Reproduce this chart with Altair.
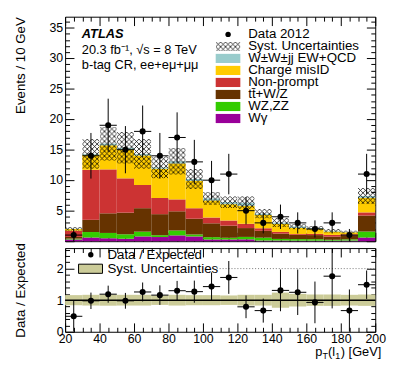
import urllib.parse
import altair as alt
import pandas as pd

# ---------------- data ----------------
bin_lo = [20, 30, 40, 50, 60, 70, 80, 90, 100, 110, 120, 130, 140, 150, 160, 170, 180, 190]
bin_hi = [30, 40, 50, 60, 70, 80, 90, 100, 110, 120, 130, 140, 150, 160, 170, 180, 190, 200]

wgamma       = [0.28, 0.60, 0.48, 0.40, 0.78, 0.68, 0.95, 0.78, 0.28, 0.28, 0.30, 0.10, 0.10, 0.08, 0.08, 0.08, 0.10, 0.60]
wz_zz        = [0.14, 0.90, 0.87, 0.73, 0.78, 0.30, 0.80, 0.32, 0.38, 0.28, 0.40, 0.48, 0.27, 0.26, 0.25, 0.15, 0.20, 0.98]
ttbar_v      = [0.28, 2.00, 3.22, 3.55, 3.85, 3.45, 3.15, 2.58, 2.27, 1.98, 1.45, 1.12, 0.87, 0.70, 0.67, 0.50, 0.67, 2.62]
non_prompt   = [1.02, 8.20, 7.20, 5.62, 3.80, 2.65, 1.95, 1.72, 0.95, 0.85, 0.70, 0.42, 0.28, 0.13, 0.20, 0.30, 0.16, 0.52]
charge_misid = [0.27, 2.45, 3.95, 4.75, 4.85, 4.80, 5.90, 4.50, 2.80, 2.68, 2.95, 2.18, 1.33, 1.00, 0.80, 0.55, 0.33, 2.38]
wwjj         = [0.05, 0.15, 0.28, 0.25, 0.24, 0.22, 0.35, 0.30, 0.32, 0.33, 0.50, 0.20, 0.20, 0.23, 0.15, 0.12, 0.04, 0.30]
syst_rel     = [0.16, 0.17, 0.175, 0.17, 0.17, 0.15, 0.17, 0.16, 0.16, 0.15, 0.17, 0.17, 0.24, 0.20, 0.18, 0.18, 0.17, 0.18]

data_counts = [1, 14, 19, 15, 18, 14, 17, 13, 10, 11, 5, 3, 4, 3, 2, 3, 1, 11]
data_err    = [1.0, 3.74, 4.36, 3.87, 4.24, 3.74, 4.12, 3.61, 3.16, 3.32, 2.24, 1.73, 2.0, 1.73, 1.41, 1.73, 1.0, 3.32]
ratio       = [0.49, 0.98, 1.19, 0.98, 1.26, 1.16, 1.30, 1.27, 1.43, 1.72, 0.79, 0.67, 1.31, 1.25, 0.93, 1.76, 0.67, 1.49]
ratio_err   = [0.49, 0.26, 0.27, 0.25, 0.30, 0.31, 0.31, 0.35, 0.45, 0.52, 0.36, 0.38, 0.66, 0.72, 0.66, 1.02, 0.67, 0.45]

proc_names  = ["Wγ", "WZ,ZZ", "tt̄+W/Z", "Non-prompt", "Charge misID", "W±W±jj EW+QCD"]
proc_values = [wgamma, wz_zz, ttbar_v, non_prompt, charge_misid, wwjj]
proc_colors = ["#990099", "#33cc00", "#663300", "#cc3333", "#ffcc00", "#99cccc"]

legend_labels = ["Data 2012", "Syst. Uncertainties", "W±W±jj EW+QCD", "Charge misID",
                 "Non-prompt", "tt̄+W/Z", "WZ,ZZ", "Wγ"]
legend_rows_y = [33.9, 31.93, 29.96, 27.99, 26.02, 24.05, 22.08, 20.11]

x_ticks = [20 + 5 * i for i in range(37)]
y_top_ticks = list(range(0, 37))
y_top_labels = ["5", "10", "15", "20", "25", "30", "35"]
y_top_label_vals = [5, 10, 15, 20, 25, 30, 35]
# left edge of each label (in GeV units, just left of the frame) so that labels end 2px before it
y_top_label_x = [14.89, 10.91, 10.91, 10.91, 10.91, 10.91, 10.91]
y_rat_ticks = [0.0, 0.2, 0.4, 0.6, 0.8, 1.0, 1.2, 1.4, 1.6, 1.8, 2.0, 2.2, 2.4, 2.6]

FONT = "Liberation Sans"

# ---------------- tables ----------------
rows = []
for i, (lo, hi) in enumerate(zip(bin_lo, bin_hi)):
    cum = 0.0
    for name, vals in zip(proc_names, proc_values):
        rows.append({"lo": lo, "hi": hi, "proc": name, "y0": cum, "y1": cum + vals[i]})
        cum += vals[i]
stack_df = pd.DataFrame(rows)

tot = [sum(v[i] for v in proc_values) for i in range(len(bin_lo))]
band_df = pd.DataFrame({
    "lo": bin_lo, "hi": bin_hi,
    "ylo": [t * (1 - s) for t, s in zip(tot, syst_rel)],
    "yhi": [t * (1 + s) for t, s in zip(tot, syst_rel)],
    "rlo": [1 - s for s in syst_rel],
    "rhi": [1 + s for s in syst_rel],
})
pts_df = pd.DataFrame({
    "lo": bin_lo, "hi": bin_hi,
    "mid": [(a + b) / 2 for a, b in zip(bin_lo, bin_hi)],
    "d": data_counts,
    "dlo": [d - e for d, e in zip(data_counts, data_err)],
    "dhi": [d + e for d, e in zip(data_counts, data_err)],
    "r": ratio,
    "rlo": [r - e for r, e in zip(ratio, ratio_err)],
    "rhi": [r + e for r, e in zip(ratio, ratio_err)],
})

hatch_svg = ("<svg xmlns='http://www.w3.org/2000/svg' width='100%' height='100%'>"
             "<defs><pattern id='h' width='5' height='5' patternUnits='userSpaceOnUse'>"
             "<path d='M0,0L5,5M5,0L0,5' stroke='black' stroke-width='0.75' fill='none'/>"
             "</pattern></defs><rect width='100%' height='100%' fill='url(#h)'/></svg>")
hatch_uri = "data:image/svg+xml;charset=utf-8," + urllib.parse.quote(hatch_svg)

# ---------------- scales & axes ----------------
W, H_TOP, H_RAT = 315, 228, 85
xs = alt.Scale(domain=[20, 200], nice=False, zero=False)
ys = alt.Scale(domain=[0, 36.8], nice=False, zero=False)
yr = alt.Scale(domain=[0, 2.65], nice=False, zero=False)
color_scale = alt.Scale(domain=proc_names, range=proc_colors)

common = dict(domain=False, grid=False, tickColor="black", tickWidth=1,
              labelColor="black", labelFont=FONT, labelFontSize=12.5,
              labelOverlap=False, labelFlush=False, titleFont=FONT,
              titleFontWeight="normal", titleColor="black", titleFontSize=13.5)

x_size = {"expr": "datum.value % 20 === 0 ? -9 : -4.5"}
y_top_size = {"expr": "datum.value % 5 === 0 ? -9 : -4.5"}
y_rat_size = {"expr": "abs(datum.value - round(datum.value)) < 0.001 ? -9 : -4.5"}


def ax(orient, values, size, labels=False, **kw):
    return alt.Axis(orient=orient, values=values, tickSize=size, labels=labels, **common, **kw)


# ---------------- top panel ----------------
bars = alt.Chart(stack_df).mark_rect().encode(
    x=alt.X("lo:Q", scale=xs, title=None, axis=ax("bottom", x_ticks, x_size)),
    x2="hi:Q",
    y=alt.Y("y0:Q", scale=ys, title="Events / 10 GeV",
            axis=ax("left", y_top_ticks, y_top_size, minExtent=17, maxExtent=17,
                    titlePadding=21, titleAnchor="end")),
    y2="y1:Q",
    color=alt.Color("proc:N", scale=color_scale, legend=None),
)

hatch = alt.Chart(band_df).mark_image(aspect=False, align="left", baseline="top").encode(
    x=alt.X("lo:Q", scale=xs, title=None, axis=ax("top", x_ticks, x_size)),
    x2="hi:Q",
    y=alt.Y("yhi:Q", scale=ys, title=None, axis=ax("right", y_top_ticks, y_top_size)),
    y2="ylo:Q",
    url=alt.value(hatch_uri),
)

ylab_df = pd.DataFrame({"v": y_top_label_vals, "t": y_top_labels, "xl": y_top_label_x})
ylab = alt.Chart(ylab_df).mark_text(
    align="left", baseline="middle", fontSize=12.5, font=FONT, color="black").encode(
    x=alt.X("xl:Q", scale=xs, axis=None), y=alt.Y("v:Q", scale=ys, axis=None), text="t:N")

verr = alt.Chart(pts_df).mark_rule(color="black", strokeWidth=1).encode(
    x=alt.X("mid:Q", scale=xs, axis=None), y=alt.Y("dlo:Q", scale=ys, axis=None), y2="dhi:Q")
herr = alt.Chart(pts_df).mark_rule(color="black", strokeWidth=1).encode(
    x=alt.X("lo:Q", scale=xs, axis=None), x2="hi:Q", y=alt.Y("d:Q", scale=ys, axis=None))
dots = alt.Chart(pts_df).mark_circle(color="black", opacity=1, size=38).encode(
    x=alt.X("mid:Q", scale=xs, axis=None), y=alt.Y("d:Q", scale=ys, axis=None))

leg_df = pd.DataFrame({"label": legend_labels, "yc": legend_rows_y})
leg_box_df = pd.DataFrame({
    "proc": legend_labels[2:], "x0": [107.4] * 6, "x1": [121.7] * 6,
    "y0": [y - 0.75 for y in legend_rows_y[2:]], "y1": [y + 0.75 for y in legend_rows_y[2:]],
})
leg_boxes = alt.Chart(leg_box_df).mark_rect().encode(
    x=alt.X("x0:Q", scale=xs, axis=None), x2="x1:Q",
    y=alt.Y("y0:Q", scale=ys, axis=None), y2="y1:Q",
    color=alt.Color("proc:N", scale=color_scale, legend=None))
leg_hatch = alt.Chart(pd.DataFrame({"x0": [107.4], "x1": [121.7],
                                    "y0": [legend_rows_y[1] + 0.75], "y1": [legend_rows_y[1] - 0.75]})
                      ).mark_image(aspect=False, align="left", baseline="top").encode(
    x=alt.X("x0:Q", scale=xs, axis=None), x2="x1:Q",
    y=alt.Y("y0:Q", scale=ys, axis=None), y2="y1:Q", url=alt.value(hatch_uri))
leg_dot = alt.Chart(pd.DataFrame({"x": [114.6], "y": [legend_rows_y[0]]})).mark_circle(
    color="black", opacity=1, size=30).encode(
    x=alt.X("x:Q", scale=xs, axis=None), y=alt.Y("y:Q", scale=ys, axis=None))
leg_text = alt.Chart(leg_df).mark_text(align="left", baseline="middle", fontSize=13.5,
                                       font=FONT, color="black").encode(
    x=alt.value(186), y=alt.Y("yc:Q", scale=ys, axis=None), text="label:N")

ann = [("ATLAS", 22, "bold", "italic"),
       ("20.3 fb⁻¹, √s = 8 TeV", 38, "normal", "normal"),
       ("b-tag CR, ee+eμ+μμ", 53, "normal", "normal")]
ann_layers = [
    alt.Chart(pd.DataFrame({"t": [t]})).mark_text(
        align="left", baseline="alphabetic", fontSize=13, font=FONT, fontWeight=fw,
        fontStyle=fs, color="black").encode(x=alt.value(17), y=alt.value(yy), text="t:N")
    for t, yy, fw, fs in ann
]

top = alt.layer(bars, hatch, ylab, verr, herr, dots, leg_boxes, leg_hatch, leg_dot, leg_text,
                *ann_layers).resolve_axis(x="independent", y="independent").properties(
    width=W, height=H_TOP)

# ---------------- ratio panel ----------------
rband = alt.Chart(band_df).mark_rect(color="#cccc99").encode(
    x=alt.X("lo:Q", scale=xs, title=None,
            axis=ax("bottom", x_ticks, x_size, labels=True, labelPadding=10,
                    labelExpr="datum.value % 20 === 0 ? datum.label : ''")),
    x2="hi:Q",
    y=alt.Y("rlo:Q", scale=yr, title="Data / Expected",
            axis=ax("left", y_rat_ticks, y_rat_size, labels=True, labelPadding=11,
                    labelExpr="abs(datum.value - round(datum.value)) < 0.001 ? format(datum.value, 'd') : ''",
                    minExtent=17, maxExtent=17, titlePadding=21)),
    y2="rhi:Q",
)
one_line = alt.Chart(pd.DataFrame({"r": [1.0]})).mark_rule(color="black", strokeWidth=1.5).encode(
    y=alt.Y("r:Q", scale=yr, title=None, axis=ax("right", y_rat_ticks, y_rat_size)))
two_line = alt.Chart(pd.DataFrame({"x0": [108.0], "x1": [200.0], "r": [2.0]})).mark_rule(
    color="#777777", strokeWidth=1, strokeDash=[1, 2]).encode(
    x=alt.X("x0:Q", scale=xs, title=None, axis=ax("top", x_ticks, x_size)), x2="x1:Q",
    y=alt.Y("r:Q", scale=yr, axis=None))
rverr = alt.Chart(pts_df).mark_rule(color="black", strokeWidth=1, clip=True).encode(
    x=alt.X("mid:Q", scale=xs, axis=None), y=alt.Y("rlo:Q", scale=yr, axis=None), y2="rhi:Q")
rherr = alt.Chart(pts_df).mark_rule(color="black", strokeWidth=1).encode(
    x=alt.X("lo:Q", scale=xs, axis=None), x2="hi:Q", y=alt.Y("r:Q", scale=yr, axis=None))
rdots = alt.Chart(pts_df).mark_circle(color="black", opacity=1, size=38).encode(
    x=alt.X("mid:Q", scale=xs, axis=None), y=alt.Y("r:Q", scale=yr, axis=None))

rleg_box = alt.Chart(pd.DataFrame({"x0": [27.8], "x1": [41.7], "y0": [1.85], "y1": [2.14]})).mark_rect(
    color="#cccc99", stroke="black", strokeWidth=1).encode(
    x=alt.X("x0:Q", scale=xs, axis=None), x2="x1:Q", y=alt.Y("y0:Q", scale=yr, axis=None), y2="y1:Q")
rleg_dot = alt.Chart(pd.DataFrame({"x": [34.9], "y": [2.44]})).mark_circle(
    color="black", opacity=1, size=30).encode(
    x=alt.X("x:Q", scale=xs, axis=None), y=alt.Y("y:Q", scale=yr, axis=None))
rleg_text = alt.Chart(pd.DataFrame({"t": ["Data / Expected", "Syst. Uncertainties"], "y": [2.42, 1.99]})
                      ).mark_text(align="left", baseline="middle", fontSize=13.5, font=FONT, color="black").encode(
    x=alt.value(43), y=alt.Y("y:Q", scale=yr, axis=None), text="t:N")

xt_parts = [("p", 254, 110, 13), ("T", 261.5, 113, 9), ("(l", 267, 110, 13),
            ("1", 274.5, 113, 9), (") [GeV]", 280, 110, 13)]
xt_layers = [
    alt.Chart(pd.DataFrame({"t": [t]})).mark_text(
        align="left", baseline="alphabetic", fontSize=fsz, font=FONT, color="black").encode(
        x=alt.value(xx), y=alt.value(yy), text="t:N")
    for t, xx, yy, fsz in xt_parts
]

bottom = alt.layer(rband, one_line, two_line, rverr, rherr, rdots, rleg_box, rleg_dot, rleg_text,
                   *xt_layers).resolve_axis(x="independent", y="independent").properties(
    width=W, height=H_RAT)

chart = alt.vconcat(top, bottom, spacing=7, bounds="flush").configure(
    font=FONT, background="white").configure_view(stroke="black", strokeWidth=1)

chart.save("out.html", embed_options={"renderer": "svg", "actions": False})
